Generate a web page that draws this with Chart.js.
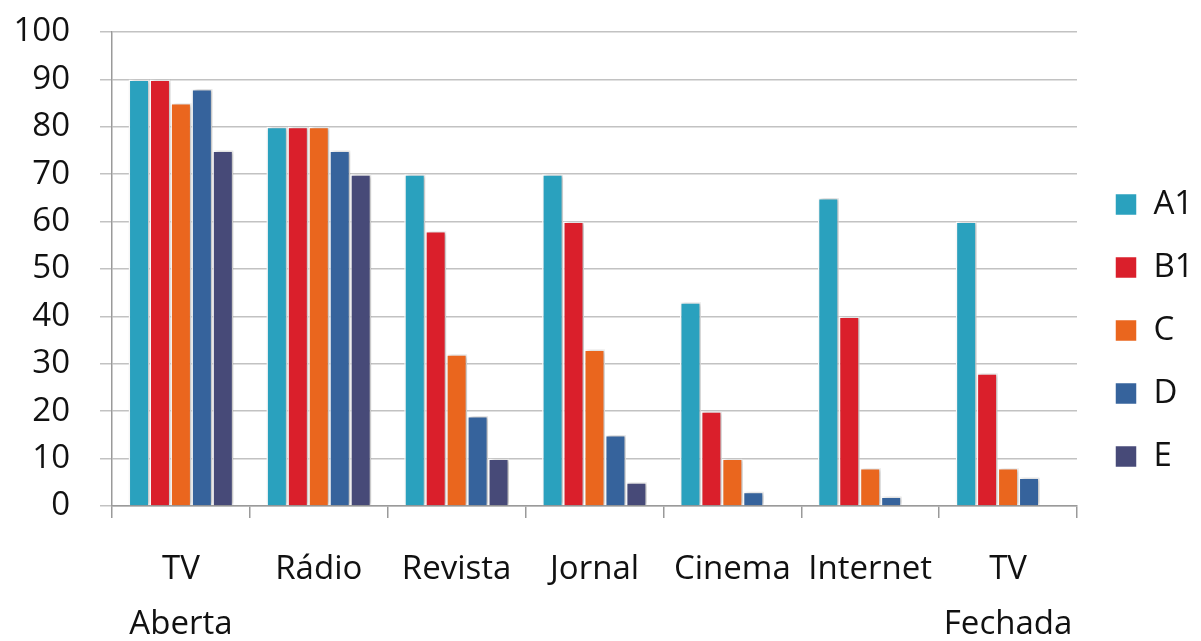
<!DOCTYPE html>
<html>
<head>
<meta charset="utf-8">
<script src="https://cdn.jsdelivr.net/npm/chart.js@4/dist/chart.umd.min.js"></script>
<style>
html,body{margin:0;padding:0;background:#fff;}
#wrap{width:1201px;height:641px;}
</style>
</head>
<body>
<div id="wrap"><canvas id="c" width="1201" height="641"></canvas></div>
<script>
const categories = [["TV","Aberta"],"Rádio","Revista","Jornal",["Cinema"],"Internet",["TV","Fechada"]];
const seriesNames = ["A1","B1","C","D","E"];
const A1 = [90,80,70,70,43,65,60];
const B1 = [90,80,58,60,20,40,28];
const C  = [85,80,32,33,10,8,8];
const D  = [88,75,19,15,3,2,6];
const E  = [75,70,10,5,0,0,0];
const yTicks = [0,10,20,30,40,50,60,70,80,90,100];
const colors = ["#2aa1be","#da1f2b","#ea661e","#36639c","#474a78"];
const values = [A1,B1,C,D,E];

const FONT = "'Open Sans', sans-serif";

const helperPlugin = {
  id: 'helper',
  beforeLayout(chart){
    const lg = chart.legend;
    if (lg && !lg._patched) {
      const orig = lg.fit;
      lg.fit = function(){ orig.call(this); this.width = 124; };
      lg._patched = true;
    }
  },
  afterLayout(chart){
    if (chart.legend) {
      chart.legend.left += 8; chart.legend.right += 8;
      chart.legend.top -= 6; chart.legend.bottom -= 6;
    }
  },
  beforeDatasetsDraw(chart){
    const ctx = chart.ctx;
    ctx.save();
    ctx.shadowColor = 'rgba(0,0,0,0.28)';
    ctx.shadowBlur = 4;
    ctx.shadowOffsetX = 2;
    ctx.shadowOffsetY = 0;
  },
  afterDatasetsDraw(chart){
    chart.ctx.restore();
  }
};

new Chart(document.getElementById('c'), {
  type: 'bar',
  data: {
    labels: categories,
    datasets: seriesNames.map((n,i)=>({
      label: n,
      data: values[i],
      backgroundColor: colors[i],
      borderColor: '#ffffff',
      borderWidth: 1.5,
      barPercentage: 1.0,
      categoryPercentage: 0.76
    }))
  },
  options: {
    responsive: false,
    animation: false,
    devicePixelRatio: 1,
    layout: { padding: { left: 0, right: 0, top: 32, bottom: 0 } },
    plugins: {
      tooltip: { enabled: false },
      legend: {
        position: 'right',
        align: 'center',
        labels: {
          boxWidth: 22,
          boxHeight: 22,
          padding: 30,
          color: '#111',
          font: { family: FONT, size: 33 }
        }
      }
    },
    scales: {
      x: {
        afterFit(s){ s.height = 135; s.paddingLeft = 0; s.paddingRight = 0; s.paddingTop = 0; s.paddingBottom = 0; },
        grid: {
          offset: true,
          drawOnChartArea: false,
          drawTicks: true,
          tickLength: 12,
          color: '#9a9a9a',
          lineWidth: 1.5
        },
        border: { display: true, color: '#9a9a9a', width: 1.5 },
        ticks: {
          color: '#111',
          font: { family: FONT, size: 33, lineHeight: 1.64 },
          padding: 25,
          maxRotation: 0,
          autoSkip: false
        }
      },
      y: {
        min: 0,
        max: 100,
        afterFit(s){ s.width = 112; s.paddingTop = 0; s.paddingBottom = 0; s.paddingLeft = 0; s.paddingRight = 0; },
        afterBuildTicks(axis){ axis.ticks = yTicks.map(v=>({value:v})); },
        grid: {
          color: '#c2c2c2',
          lineWidth: 1.5,
          tickLength: 12
        },
        border: { display: true, color: '#9a9a9a', width: 1.5 },
        ticks: {
          color: '#111',
          font: { family: FONT, size: 33 },
          padding: 30
        }
      }
    }
  },
  plugins: [helperPlugin]
});
</script>
</body>
</html>
